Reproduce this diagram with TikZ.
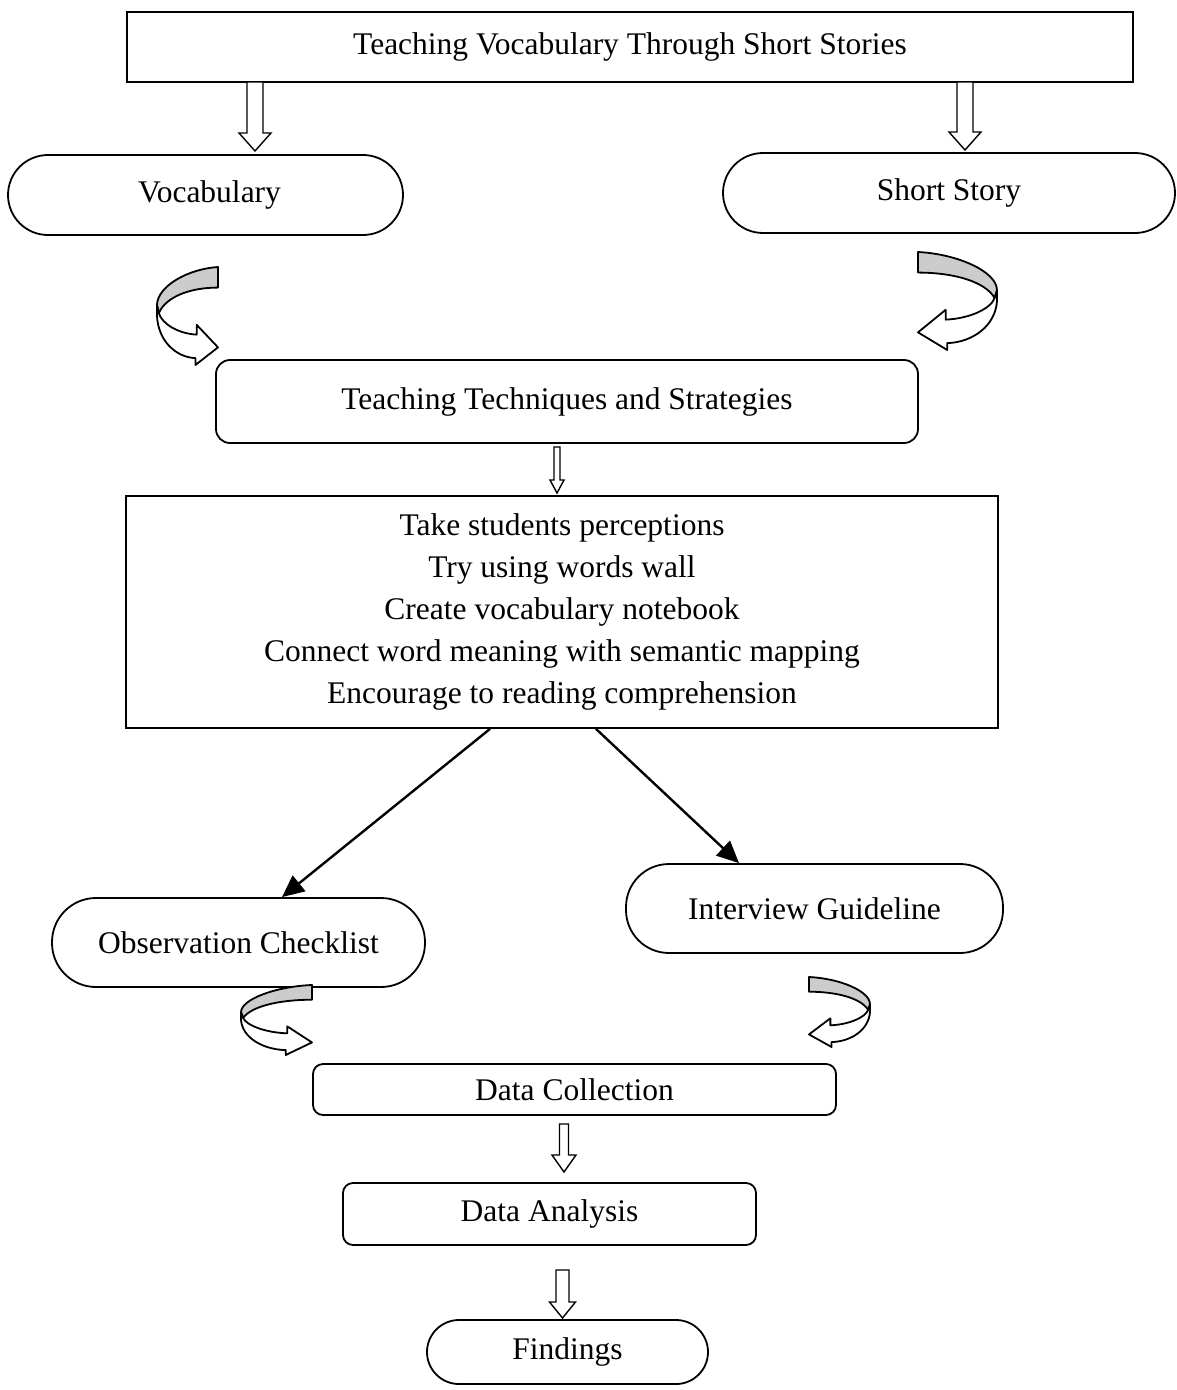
\documentclass[tikz,border=0pt]{standalone}
\usepackage{fontspec}
\setmainfont{Liberation Serif}
\usetikzlibrary{arrows.meta}
\definecolor{bandgray}{RGB}{204,204,204}
\newcommand{\hollowdown}[6]{% x, ytop, ybottom, shaft half, head half, head length
  \draw[line width=1.4pt, fill=white, line join=miter]
    (#1-#4,#2) -- (#1-#4,#3-#6) -- (#1-#5,#3-#6) -- (#1,#3) -- (#1+#5,#3-#6)
    -- (#1+#4,#3-#6) -- (#1+#4,#2) -- cycle;}
\newcommand{\curvedarrow}[4]{% x0, y0, xscale, yscale  (local box 0..100)
  \begin{scope}[shift={(#1,#2)}, xscale=#3, yscale=#4, line width=1.8pt, line join=round]
    \draw[fill=bandgray] (100,0) .. controls (50,2) and (0,20) .. (0,39)
      -- (3,47) .. controls (15,30) and (55,21) .. (100,21) -- cycle;
    \draw[fill=white] (0,39) -- (0,50) .. controls (2,75) and (30,92) .. (63,93)
      -- (63,100) -- (100,82) -- (65,59) -- (65,69)
      .. controls (35,68) and (8,58) .. (3,47) -- cycle;
  \end{scope}}
\begin{document}
\begin{tikzpicture}[x=1pt,y=-1pt,
  font=\fontsize{31.5}{42}\selectfont,
  plainbox/.style={draw, line width=1.8pt, inner sep=0pt, align=center},
  roundbox/.style={plainbox, rounded corners=14pt},
  stadium/.style={plainbox, rounded corners=#1},
  arr/.style={line width=2.4pt, -{Triangle[length=22pt,width=20pt]}}]
\useasboundingbox (0,0) rectangle (1177,1390);

\node[plainbox, minimum width=1006pt, minimum height=70pt] (title) at (630,47) {Teaching Vocabulary Through Short Stories};

\node[stadium=40pt, minimum width=395pt, minimum height=80pt] (vocab) at (205.5,195) {\hspace*{8pt}Vocabulary};
\node[stadium=40pt, minimum width=452pt, minimum height=80pt] (story) at (949,193) {Short Story};

\hollowdown{255}{82}{151}{8}{16}{18}
\hollowdown{965}{82}{150}{8}{16}{18}

\curvedarrow{157}{267}{0.61}{0.98}
\curvedarrow{997}{252}{-0.79}{0.98}

\node[roundbox, minimum width=702pt, minimum height=83pt] (tech) at (567,401.5) {Teaching Techniques and Strategies};

\hollowdown{557}{447}{493}{3}{7}{13}

\node[plainbox, minimum width=872pt, minimum height=232pt] (list) at (562,612)
  {Take students perceptions\\Try using words wall\\Create vocabulary notebook\\Connect word meaning with semantic mapping\\Encourage to reading comprehension};

\node[stadium=44pt, minimum width=373pt, minimum height=89pt] (obs) at (238.5,942.5) {Observation Checklist};
\node[stadium=43pt, minimum width=377pt, minimum height=89pt] (intv) at (814.5,908.5) {Interview Guideline};

\draw[arr] ([xshift=-72pt]list.south) -- ([xshift=43.5pt]obs.north);
\draw[arr] ([xshift=34pt]list.south) -- ([xshift=-75.5pt]intv.north);

\curvedarrow{241}{985}{0.71}{0.70}
\curvedarrow{870}{977}{-0.61}{0.70}

\node[roundbox, rounded corners=10pt, minimum width=523pt, minimum height=51pt] (coll) at (574.5,1089.5) {Data Collection};

\hollowdown{564}{1124}{1172}{4.5}{12}{17}

\node[roundbox, rounded corners=10pt, minimum width=413pt, minimum height=62pt] (anal) at (549.5,1214) {Data Analysis};

\hollowdown{562.5}{1270}{1318}{6.5}{13}{16}

\node[stadium=32pt, minimum width=281pt, minimum height=64pt] (find) at (567.5,1352) {Findings};
\end{tikzpicture}
\end{document}
